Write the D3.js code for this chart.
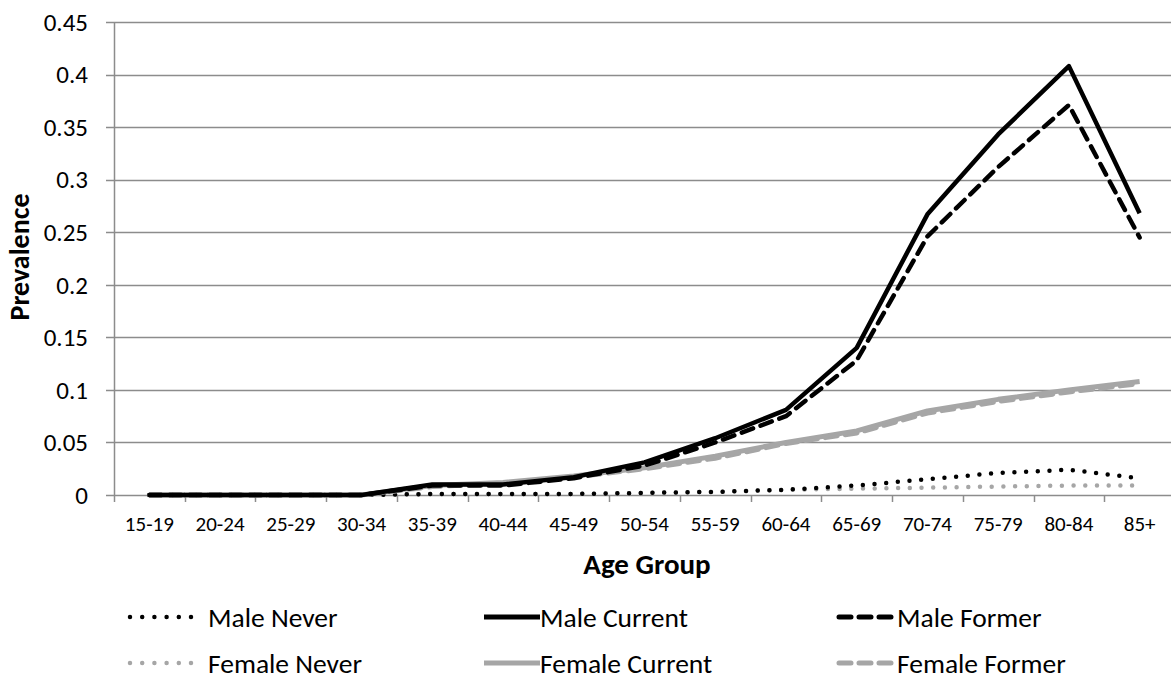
<!DOCTYPE html>
<html>
<head>
<meta charset="utf-8">
<script src="https://cdn.jsdelivr.net/npm/d3@7"></script>
<style>
  body { margin: 0; background: #fff; }
  svg { display: block; font-family: Carlito, Calibri, "Liberation Sans", Arial, sans-serif; }
</style>
</head>
<body>
<svg id="chart" width="1171" height="679"></svg>
<script>
// data
var ageGroups = ["15-19", "20-24", "25-29", "30-34", "35-39", "40-44", "45-49", "50-54",
                 "55-59", "60-64", "65-69", "70-74", "75-79", "80-84", "85+"]
var yTicks = [0, 0.05, 0.1, 0.15, 0.2, 0.25, 0.3, 0.35, 0.4, 0.45]

var maleNever     = [0, 0, 0, 0, 0.001, 0.001, 0.001, 0.002, 0.003, 0.005, 0.009, 0.015, 0.021, 0.024, 0.016]
var maleCurrent   = [0, 0, 0, 0, 0.010, 0.010, 0.017, 0.031, 0.054, 0.081, 0.140, 0.267, 0.343, 0.408, 0.268]
var maleFormer    = [0, 0, 0, 0, 0.009, 0.009, 0.016, 0.028, 0.050, 0.075, 0.128, 0.246, 0.312, 0.371, 0.245]
var femaleNever   = [0, 0, 0, 0, 0.001, 0.001, 0.001, 0.002, 0.003, 0.005, 0.006, 0.007, 0.008, 0.009, 0.009]
var femaleCurrent = [0, 0, 0, 0, 0.009, 0.012, 0.018, 0.026, 0.037, 0.050, 0.061, 0.080, 0.091, 0.100, 0.108]
var femaleFormer  = [0, 0, 0, 0, 0.008, 0.011, 0.017, 0.025, 0.035, 0.049, 0.059, 0.078, 0.089, 0.098, 0.106]

var seriesNames = ["Male Never", "Male Current", "Male Former", "Female Never", "Female Current", "Female Former"]
var seriesValues = [maleNever, maleCurrent, maleFormer, femaleNever, femaleCurrent, femaleFormer]

// styles per series
var styles = [
    { color: "#000000", width: 4.5, dash: "0 11.7", cap: "round" },
    { color: "#000000", width: 4.5, dash: null,     cap: "butt" },
    { color: "#000000", width: 4.5, dash: "12 8",   cap: "round" },
    { color: "#a6a6a6", width: 4.5, dash: "0 11.7", cap: "round" },
    { color: "#a6a6a6", width: 5,   dash: null,     cap: "butt" },
    { color: "#a6a6a6", width: 5,   dash: "12 8",   cap: "round" }
]

var svg = d3.select("#chart")
var plotLeft = 114, plotRight = 1175, plotTop = 22, plotBottom = 495

var x = d3.scaleBand().domain(ageGroups).range([plotLeft, plotRight])
var y = d3.scaleLinear().domain([0, 0.45]).range([plotBottom, plotTop])

var gridColor = "#8c8c8c"

// gridlines
svg.append("g")
    .selectAll("line")
    .data(yTicks)
    .enter()
    .append("line")
    .attr("x1", plotLeft - 8)
    .attr("x2", 1171)
    .attr("y1", function (d) { return Math.round(y(d)) + 0.5 })
    .attr("y2", function (d) { return Math.round(y(d)) + 0.5 })
    .style("stroke", gridColor)
    .style("stroke-width", 1.5)

// y axis line
svg.append("line")
    .attr("x1", plotLeft + 0.5).attr("x2", plotLeft + 0.5)
    .attr("y1", plotTop).attr("y2", plotBottom)
    .style("stroke", gridColor).style("stroke-width", 1.5)

// y tick labels
svg.append("g")
    .selectAll("text")
    .data(yTicks)
    .enter()
    .append("text")
    .attr("x", 88)
    .attr("y", function (d) { return y(d) })
    .attr("dy", "0.35em")
    .attr("text-anchor", "end")
    .style("font-size", "25px")
    .style("fill", "#000")
    .text(function (d) { return d3.format("")(d) })

// x ticks at band boundaries
var xBounds = ageGroups.map(function (d) { return x(d) })
svg.append("g")
    .selectAll("line")
    .data(xBounds)
    .enter()
    .append("line")
    .attr("x1", function (d) { return Math.round(d) + 0.5 })
    .attr("x2", function (d) { return Math.round(d) + 0.5 })
    .attr("y1", plotBottom)
    .attr("y2", plotBottom + 7)
    .style("stroke", gridColor)
    .style("stroke-width", 1.5)

// x tick labels
svg.append("g")
    .selectAll("text")
    .data(ageGroups)
    .enter()
    .append("text")
    .attr("x", function (d) { return x(d) + x.bandwidth() / 2 })
    .attr("y", 531)
    .attr("text-anchor", "middle")
    .style("font-size", "21px")
    .style("fill", "#000")
    .text(function (d) { return d })

// axis titles
svg.append("text")
    .attr("x", 647)
    .attr("y", 574)
    .attr("text-anchor", "middle")
    .style("font-size", "29px")
    .style("font-weight", "bold")
    .text("Age Group")

svg.append("text")
    .attr("transform", "translate(29,257) rotate(-90)")
    .attr("text-anchor", "middle")
    .style("font-size", "28px")
    .style("font-weight", "bold")
    .text("Prevalence")

// lines
var line = d3.line()
    .x(function (d, i) { return x(ageGroups[i]) + x.bandwidth() / 2 })
    .y(function (d) { return y(d) })

var drawOrder = [3, 0, 5, 4, 2, 1]
drawOrder.forEach(function (k) {
    var s = styles[k]
    svg.append("path")
        .datum(seriesValues[k])
        .attr("d", line)
        .style("fill", "none")
        .style("stroke", s.color)
        .style("stroke-width", s.width)
        .style("stroke-linecap", s.cap)
        .style("stroke-linejoin", "round")
        .style("stroke-dasharray", s.dash)
})

// legend
var legendCols = [130, 484, 836]
var legendRows = [617, 663]
seriesNames.forEach(function (name, k) {
    var s = styles[k]
    var lx = legendCols[k % 3]
    var ly = legendRows[Math.floor(k / 3)]
    var col = k % 3
    var sample = svg.append("line")
        .attr("y1", ly)
        .attr("y2", ly)
        .style("stroke", s.color)
        .style("stroke-width", s.width)
        .style("stroke-linecap", s.cap)
    if (col === 0) {
        sample.attr("x1", lx).attr("x2", lx + 61).style("stroke-dasharray", "0 12.2")
    } else if (col === 1) {
        sample.attr("x1", lx).attr("x2", lx + 56).style("stroke-width", 5)
    } else {
        sample.attr("x1", lx + 3).attr("x2", lx + 56).style("stroke-dasharray", "12 8").style("stroke-width", 5)
    }
    svg.append("text")
        .attr("x", col === 0 ? lx + 78 : (col === 1 ? lx + 56 : lx + 61))
        .attr("y", ly)
        .attr("dy", "0.35em")
        .style("font-size", "27.5px")
        .style("fill", "#000")
        .text(name)
})
</script>
</body>
</html>
